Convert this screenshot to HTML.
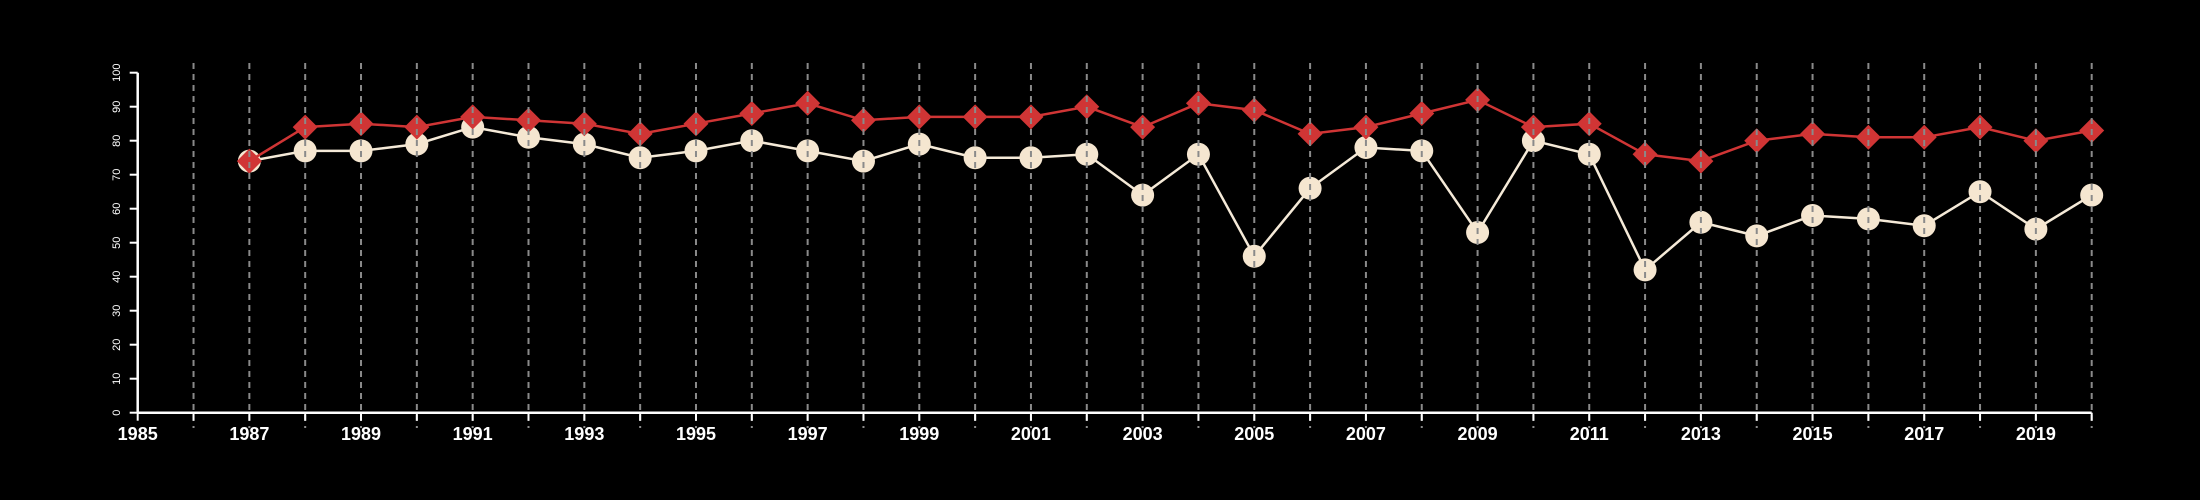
<!DOCTYPE html>
<html><head><meta charset="utf-8"><style>
html,body{margin:0;padding:0;background:#000;width:2200px;height:500px;overflow:hidden}
svg{display:block}
text{font-family:"Liberation Sans",sans-serif;fill:#fff}
</style></head><body>
<svg id="chart" width="2200" height="500" xmlns="http://www.w3.org/2000/svg">
<g id="series"></g><g id="grid"></g><g id="axes"></g>
</svg>
<script>
const years=[1987,1988,1989,1990,1991,1992,1993,1994,1995,1996,1997,1998,1999,2000,2001,2002,2003,2004,2005,2006,2007,2008,2009,2010,2011,2012,2013,2014,2015,2016,2017,2018,2019,2020];
const redValues=[74,84,85,84,87,86,85,82,85,88,91,86,87,87,87,90,84,91,89,82,84,88,92,84,85,76,74,80,82,81,81,84,80,83];
const whiteValues=[74,77,77,79,84,81,79,75,77,80,77,74,79,75,75,76,64,76,46,66,78,77,53,80,76,42,56,52,58,57,55,65,54,64];
const xTickLabels=[1985,1987,1989,1991,1993,1995,1997,1999,2001,2003,2005,2007,2009,2011,2013,2015,2017,2019];
const yTickLabels=[0,10,20,30,40,50,60,70,80,90,100];
const xMin=1985,xMax=2020;
const NS="http://www.w3.org/2000/svg";
function X(v){return 137.7+(v-xMin)*(2091.7-137.7)/(xMax-xMin);}
function Y(v){return 412.7-v*3.4;}
function mk(tag,attrs,parent){const e=document.createElementNS(NS,tag);for(const k in attrs)e.setAttribute(k,attrs[k]);parent.appendChild(e);return e;}
const S=document.getElementById('series'),G=document.getElementById('grid'),A=document.getElementById('axes');
// white series
let l=mk('polyline',{points:years.map((y,i)=>X(y)+','+Y(whiteValues[i])).join(' '),fill:'none',stroke:'#f5ead8','stroke-width':2.5},S);


years.forEach((y,i)=>{const c=mk('circle',{cx:X(y),cy:Y(whiteValues[i]),r:11.5,fill:'#f5e6d0'},S);

});
// red series
l=mk('polyline',{points:years.map((y,i)=>X(y)+','+Y(redValues[i])).join(' '),fill:'none',stroke:'#d03535','stroke-width':2.5},S);


years.forEach((y,i)=>{const cx=X(y),cy=Y(redValues[i]),d=12.5;
const p=mk('polygon',{points:`${cx},${cy-d} ${cx+d},${cy} ${cx},${cy+d} ${cx-d},${cy}`,fill:'#d03535'},S);

});
// gridlines
for(let y=1986;y<=2020;y++){const g=mk('line',{x1:X(y),x2:X(y),y1:63,y2:428,stroke:'#8a8a8a','stroke-width':2,'stroke-dasharray':'6,5'},G);

}
// axes
let ax=mk('line',{x1:X(xMin),x2:X(xMax),y1:Y(0),y2:Y(0),stroke:'#fff','stroke-width':2.5},A);


ax=mk('line',{x1:X(xMin),x2:X(xMin),y1:Y(0),y2:Y(100),stroke:'#fff','stroke-width':2.5},A);


for(let y=xMin;y<=xMax;y++){mk('line',{x1:X(y),x2:X(y),y1:Y(0),y2:Y(0)+8,stroke:'#fff','stroke-width':2},A);}
xTickLabels.forEach(v=>{const t=mk('text',{x:X(v),y:440,'text-anchor':'middle','font-size':18,'font-weight':'bold'},A);t.textContent=v;

});
yTickLabels.forEach(v=>{mk('line',{x1:X(xMin)-8,x2:X(xMin),y1:Y(v),y2:Y(v),stroke:'#fff','stroke-width':2},A);
const t=mk('text',{x:0,y:0,'text-anchor':'middle','font-size':11,transform:`translate(120,${Y(v)}) rotate(-90)`},A);t.textContent=v;

});
</script>
</body></html>
